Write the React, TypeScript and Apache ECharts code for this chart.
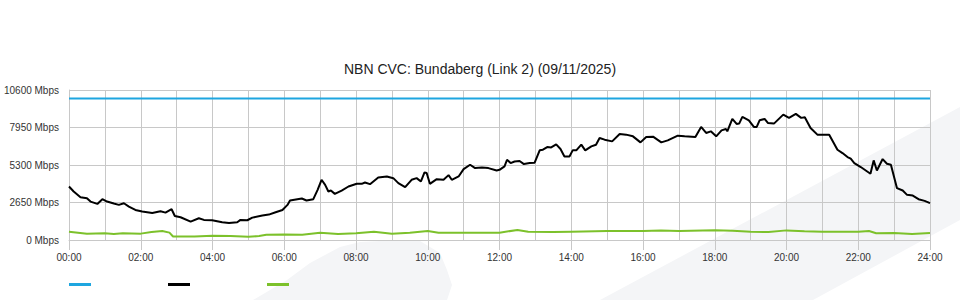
import React, { useEffect, useRef } from "react";
import * as echarts from "echarts";

const chartTitle = "NBN CVC: Bundaberg (Link 2) (09/11/2025)";
const seriesNames = ["Capacity", "Download", "Upload"];
const yTicks = [0, 2650, 5300, 7950, 10600];

const capacityHours = [0, 24];
const capacityMbps = [10000, 10000];

const downloadHours = [
  0.0, 0.13, 0.32, 0.5, 0.6, 0.79, 0.93, 1.06, 1.25, 1.39, 1.53, 1.67, 1.85, 2.04, 2.32, 2.55, 2.69, 2.86, 2.95,
  3.11, 3.39, 3.62, 3.76, 3.99, 4.27, 4.46, 4.69, 4.78, 4.97, 5.11, 5.39, 5.57, 5.76, 5.95, 6.09, 6.16, 6.49,
  6.62, 6.81, 6.93, 7.04, 7.14, 7.23, 7.3, 7.41, 7.6, 7.79, 8.02, 8.16, 8.25, 8.39, 8.62, 8.86, 9.04, 9.18,
  9.37, 9.55, 9.69, 9.81, 9.91, 9.97, 10.06, 10.25, 10.44, 10.58, 10.67, 10.86, 11.0, 11.18, 11.32, 11.51,
  11.69, 11.92, 12.0, 12.14, 12.21, 12.31, 12.42, 12.56, 12.68, 12.84, 12.98, 13.12, 13.21, 13.33, 13.44,
  13.58, 13.7, 13.81, 13.95, 14.04, 14.14, 14.28, 14.39, 14.56, 14.69, 14.79, 14.93, 15.14, 15.35, 15.53,
  15.72, 15.93, 16.09, 16.28, 16.51, 16.69, 16.97, 17.16, 17.46, 17.62, 17.76, 17.89, 18.04, 18.19, 18.31,
  18.35, 18.49, 18.61, 18.68, 18.77, 18.95, 19.09, 19.17, 19.25, 19.39, 19.48, 19.65, 19.91, 20.07, 20.26,
  20.41, 20.51, 20.67, 20.86, 21.19, 21.42, 21.56, 21.7, 21.79, 21.89, 22.07, 22.34, 22.43, 22.52, 22.68,
  22.8, 22.91, 23.08, 23.24, 23.36, 23.52, 23.68, 23.85, 24.0,
];
const downloadMbps = [
  3780, 3425, 3025, 2955, 2715, 2550, 2885, 2715, 2575, 2480, 2600, 2360, 2125, 2010, 1915, 2030, 1935, 2175, 1700,
  1610, 1300, 1540, 1420, 1395, 1255, 1205, 1255, 1420, 1395, 1580, 1725, 1795, 1965, 2125, 2480, 2790, 2930,
  2790, 2885, 3545, 4255, 3900, 3425, 3495, 3260, 3495, 3780, 3970, 3970, 4065, 3945, 4420, 4490, 4370, 4020,
  3735, 4255, 4370, 4135, 4775, 4730, 3970, 4300, 4255, 4585, 4255, 4490, 5010, 5320, 5080, 5130,
  5080, 4915, 4960, 5200, 5670, 5435, 5550, 5580, 5365, 5435, 5460, 6335, 6380, 6570, 6545,
  6755, 6430, 5905, 5905, 6335, 6335, 6735, 6335, 6615, 6735, 7210, 7090, 6970, 7495, 7445,
  7325, 6900, 7280, 7300, 6900, 7040, 7375, 7325, 7280, 7990, 7565, 7680, 7325, 7750, 7845,
  7680, 8555, 8200, 8225, 8700, 8460, 7990, 7990, 8460, 8555, 8270, 8225, 8860, 8630, 8910,
  8630, 8670, 7920, 7445, 7445, 6380, 6145, 5860, 5745, 5435, 5155, 4680, 5625, 4915, 5720,
  5390, 5320, 3665, 3495, 3190, 3140, 2885, 2765, 2600,
];

const uploadHours = [
  0.0, 0.25, 0.5, 1.0, 1.25, 1.5, 2.0, 2.3, 2.6, 2.8, 2.9, 3.5, 4.0, 4.5, 5.0, 5.3, 5.5, 6.0, 6.5, 7.0, 7.5, 8.0,
  8.5, 9.0, 9.5, 10.0, 10.3, 11.0, 12.0, 12.5, 12.8, 13.5, 14.0, 15.0, 16.0, 16.5, 17.0, 18.0, 18.5, 19.0, 19.5,
  20.0, 20.5, 21.0, 22.0, 22.3, 22.5, 23.0, 23.5, 24.0,
];
const uploadMbps = [
  590, 520, 450, 470, 430, 470, 450, 560, 640, 520, 250, 240, 300, 280, 230, 280, 370, 380, 370, 520, 430, 470,
  590, 450, 520, 640, 520, 520, 520, 710, 590, 560, 590, 640, 640, 680, 640, 690, 660, 590, 560,
  680, 610, 590, 590, 640, 480, 500, 430, 500,
];

const seriesColors = ["#1ea6e0", "#000000", "#7cc12b"];

const pairs = (xs: number[], ys: number[]) => xs.map((x, i) => [x, ys[i]]);
const pad = (n: number) => (n < 10 ? "0" + n : "" + n);

export default function App() {
  const ref = useRef<HTMLDivElement>(null);
  useEffect(() => {
    if (!ref.current) return;
    const chart = echarts.init(ref.current, null, { renderer: "svg" });
    const gridColor = "#c8c8c8";
    const watermark = "#f4f5f7";
    const font = "'Liberation Sans', Arial, sans-serif";
    chart.setOption({
      animation: false,
      backgroundColor: "#ffffff",
      textStyle: { fontFamily: font },
      title: {
        text: chartTitle,
        left: "center",
        top: 62,
        padding: 0,
        textStyle: { fontSize: 14, fontWeight: "normal", color: "#222", fontFamily: font },
      },
      legend: {
        left: 69,
        top: 283,
        padding: 0,
        itemWidth: 22,
        itemHeight: 3,
        itemGap: 77,
        icon: "rect",
        formatter: () => "",
        selectedMode: false,
        data: seriesNames,
      },
      graphic: [
        {
          type: "polygon",
          z: -10,
          silent: true,
          shape: { points: [[600, 300], [960, 107], [960, 220], [813, 300]] },
          style: { fill: watermark },
        },
        {
          type: "polygon",
          z: -10,
          silent: true,
          shape: {
            points: [
              [253, 300], [287, 280], [310, 263], [340, 247], [360, 242], [400, 240], [420, 241],
              [440, 253], [447, 270], [452, 285], [447, 300],
            ],
          },
          style: { fill: watermark },
        },
      ],
      grid: { left: 69, right: 30, top: 90, bottom: 60, containLabel: false },
      xAxis: {
        type: "value",
        min: 0,
        max: 24,
        interval: 2,
        axisLine: { show: true, lineStyle: { color: gridColor, width: 1 } },
        axisTick: { show: true, length: 10, lineStyle: { color: gridColor } },
        axisLabel: {
          margin: 12,
          fontSize: 10,
          color: "#333",
          fontFamily: font,
          formatter: (v: number) => pad(v) + ":00",
        },
        splitLine: { show: true, lineStyle: { color: gridColor, width: 1 } },
        minorTick: { show: false, splitNumber: 2 },
        minorSplitLine: { show: true, lineStyle: { color: gridColor, width: 1 } },
      },
      yAxis: {
        type: "value",
        min: 0,
        max: 10600,
        interval: 2650,
        axisLine: { show: true, lineStyle: { color: gridColor } },
        axisTick: { show: false },
        axisLabel: {
          margin: 10,
          fontSize: 10,
          color: "#333",
          fontFamily: font,
          formatter: (v: number) => (yTicks.includes(v) ? v + " Mbps" : ""),
        },
        splitLine: { show: true, lineStyle: { color: gridColor, width: 1 } },
      },
      series: [
        {
          name: seriesNames[0],
          type: "line",
          data: pairs(capacityHours, capacityMbps),
          showSymbol: false,
          lineStyle: { color: seriesColors[0], width: 2 },
          itemStyle: { color: seriesColors[0] },
        },
        {
          name: seriesNames[1],
          type: "line",
          data: pairs(downloadHours, downloadMbps),
          showSymbol: false,
          lineStyle: { color: seriesColors[1], width: 2 },
          itemStyle: { color: seriesColors[1] },
        },
        {
          name: seriesNames[2],
          type: "line",
          data: pairs(uploadHours, uploadMbps),
          showSymbol: false,
          lineStyle: { color: seriesColors[2], width: 2 },
          itemStyle: { color: seriesColors[2] },
        },
      ],
    });
    return () => chart.dispose();
  }, []);
  return (
    <div
      ref={ref}
      style={{ position: "fixed", left: 0, top: 0, width: 960, height: 300, background: "#fff" }}
    />
  );
}
